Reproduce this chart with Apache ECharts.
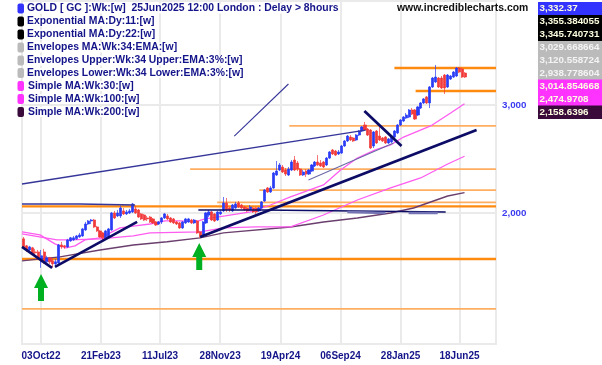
<!DOCTYPE html>
<html><head><meta charset="utf-8">
<script src="https://cdn.jsdelivr.net/npm/echarts@6/dist/echarts.min.js"></script>
<style>html,body{margin:0;padding:0;background:#fff}#c{width:602px;height:365px}</style>
</head><body><div id="c"></div>
<script>
const opens=[1815,1768,1741,1755,1728,1728,1665,1728,1665,1690,1671,1652,1658,1774,1768,1761,1801,1808,1815,1828,1835,1877,1919,1941,1948,1898,1870,1856,1822,1828,1877,2000,1978,1978,2016,1993,2000,2008,2031,2023,1993,1985,1963,1970,1956,1934,1919,1934,1963,1978,1963,1956,1934,1927,1891,1927,1934,1948,1927,1941,1863,1835,1927,1985,2008,1993,1948,1993,2016,2077,2038,2016,2038,2077,2061,2046,2038,2023,2038,2038,2016,2038,2092,2197,2164,2197,2307,2350,2377,2350,2307,2350,2440,2413,2359,2307,2341,2315,2341,2386,2422,2413,2422,2395,2458,2534,2524,2496,2505,2572,2621,2660,2651,2631,2680,2721,2783,2741,2731,2572,2721,2670,2651,2660,2601,2611,2660,2701,2783,2825,2857,2868,2944,2944,2889,2966,3023,3092,3023,3210,3271,3320,3320,3357,3210,3307,3332,3345,3447,3434,3382];
const closes=[1761,1741,1761,1715,1722,1690,1703,1665,1690,1665,1652,1665,1774,1761,1761,1808,1822,1822,1835,1842,1884,1919,1941,1948,1898,1870,1828,1822,1870,1884,2000,1963,2000,2038,1993,2008,2016,2069,2000,1970,1956,1948,1956,1934,1927,1912,1934,1963,1993,1956,1934,1927,1919,1891,1934,1956,1956,1927,1948,1856,1835,1934,2000,2008,1948,1941,2008,2008,2077,2023,2023,2061,2069,2046,2038,2023,2016,2046,2008,2008,2038,2085,2180,2164,2197,2324,2341,2395,2333,2315,2359,2422,2350,2359,2307,2333,2315,2350,2395,2422,2395,2386,2377,2458,2515,2496,2486,2515,2572,2621,2670,2631,2621,2680,2721,2762,2731,2680,2553,2711,2601,2631,2621,2601,2641,2670,2721,2783,2836,2868,2889,2944,2900,2846,2978,3023,3069,3023,3210,3320,3332,3210,3198,3198,3357,3345,3395,3447,3395,3332,3332];
const highs=[1828,1774,1768,1761,1748,1741,1741,1748,1703,1696,1683,1683,1781,1795,1774,1815,1828,1835,1842,1856,1891,1934,1948,1956,1956,1905,1877,1863,1877,1891,2008,2016,2023,2054,2038,2023,2031,2077,2054,2031,2000,1993,1978,1978,1963,1941,1941,1970,2000,1993,1970,1963,1941,1934,1941,1963,1963,1956,1956,1948,1870,1941,2008,2023,2016,2000,2016,2023,2124,2116,2046,2069,2085,2092,2069,2054,2046,2061,2046,2046,2046,2092,2189,2205,2214,2333,2431,2413,2395,2368,2377,2440,2477,2431,2368,2350,2359,2359,2404,2431,2486,2440,2431,2468,2524,2543,2534,2534,2582,2631,2680,2680,2660,2690,2731,2773,2815,2752,2741,2721,2731,2762,2660,2670,2651,2680,2731,2794,2846,2878,2911,2955,2966,2955,2989,3034,3080,3103,3222,3332,3486,3332,3345,3370,3370,3357,3408,3460,3460,3447,3395];
const lows=[1755,1728,1735,1709,1703,1677,1628,1652,1658,1652,1628,1640,1652,1748,1748,1755,1795,1801,1808,1822,1828,1870,1912,1919,1891,1863,1822,1808,1815,1822,1870,1956,1970,1963,1985,1985,1993,2000,1993,1963,1948,1941,1941,1927,1919,1905,1912,1919,1956,1948,1927,1919,1912,1884,1884,1919,1927,1919,1919,1849,1822,1828,1919,1970,1941,1934,1941,1985,2008,2008,2008,2008,2031,2038,2031,2016,2008,2016,2000,1993,2008,2031,2085,2156,2156,2189,2298,2341,2324,2298,2298,2341,2341,2341,2298,2298,2290,2307,2333,2377,2386,2377,2368,2386,2449,2486,2477,2486,2496,2563,2611,2621,2611,2621,2670,2711,2721,2670,2543,2553,2592,2621,2611,2592,2592,2601,2651,2690,2773,2815,2846,2857,2889,2836,2878,2955,3011,3011,2966,3198,3258,3198,3186,3127,3198,3295,3320,3332,3382,3320,3320];
const tickWeeks=[6.46,26.8,46.9,67.3,87.8,108.2,128.6,148.6];
const tickLabels=['03Oct22','21Feb23','11Jul23','28Nov23','19Apr24','06Sep24','28Jan25','18Jun25'];
const priceTicks=[2000,3000];
const sma30=[[0,1863],[6.1,1842],[11.2,1781],[15,1755],[18,1768],[21.4,1808],[26.5,1822],[29.9,1856],[33.3,1891],[38.4,1905],[43.5,1919],[48.6,1941],[53.7,1941],[58.8,1934],[62.2,1956],[69,1978],[77.6,2008],[84.4,2061],[91.2,2124],[102.4,2222],[108.2,2350],[113.9,2458],[120,2534],[125.2,2582],[129.6,2660],[138.8,2773],[145.6,2911],[150.3,3015]];
const sma100=[[0,1849],[11.9,1808],[16.3,1808],[26.5,1815],[37.8,1835],[43.5,1856],[60.5,1863],[68.4,1891],[79.6,1898],[91.2,1898],[102.4,1985],[113.9,2100],[125.2,2197],[135.4,2281],[144.6,2404],[150.3,2475]];
const sma200=[[0,1671],[12.9,1696],[26.5,1741],[37.8,1774],[49.3,1795],[60.5,1822],[68.4,1856],[91.2,1898],[102.4,1934],[113.9,1963],[125.2,2000],[133,2038],[144.6,2132],[150.3,2159]];
const levelPrices=[3447,3162,2773,2359,2180,2081,2050,1683,1395];
const levelStartWeeks=[126.5,133.7,90.8,57.1,80.6,66.3,0,0,0];
const levelHeavy=[1,1,0,0,0,0,1,1,0];
const thinChannel=[[0,2230],[116.7,2731]];
const thinShort=[[72.1,2670],[90.5,3246]];
const thinGrey=[[97.3,2264],[126.2,2601]];
const thinFlatA=[[0,2069],[19.7,2069],[19.7,2061],[38.4,2061]];
const thinFlatB=[[59.9,2023],[81.6,2023],[81.6,2016],[143.9,2008]];
const slateA=[[110.5,2008],[123.5,2000]];
const slateB=[[131.3,2000],[141.2,2000]];
const thickDownA=[[0,1761],[10.2,1628]];
const thickUpA=[[11.2,1634],[39.1,1934]];
const thickUpB=[[60.5,1828],[154.4,2731]];
const thickDownB=[[116.3,2933],[128.9,2572]];
const arrows=[[6.46,1512],[60.2,1699]];
const legendNames=['GOLD [ GC ]:Wk:[w]  25Jun2025 12:00 London : Delay > 8hours','Exponential MA:Dy:11:[w]','Exponential MA:Dy:22:[w]','Envelopes MA:Wk:34:EMA:[w]','Envelopes Upper:Wk:34 Upper:EMA:3%:[w]','Envelopes Lower:Wk:34 Lower:EMA:3%:[w]','Simple MA:Wk:30:[w]','Simple MA:Wk:100:[w]','Simple MA:Wk:200:[w]'];
const legendValues=['3,332.37','3,355.384055','3,345.740731','3,029.668664','3,120.558724','2,938.778604','3,014.854668','2,474.9708','2,158.6396'];
const legendColors=['#3333ff','#000000','#000000','#bbbbbb','#bbbbbb','#bbbbbb','#ff33ff','#ff33ff','#3a0a3a'];

const categories=opens.map((_,i)=>'w'+i);
for(let i=opens.length;i<161;i++)categories.push('w'+i);
const candleData=opens.map((o,i)=>[o,closes[i],lows[i],highs[i]]);
const line=(data,color,width,z)=>({type:'line',xAxisIndex:1,yAxisIndex:0,data,symbol:'none',silent:true,z:z||3,lineStyle:{color,width,cap:'butt'}});
const levels=levelPrices.map((p,i)=>line([[levelStartWeeks[i],p],[161,p]],levelHeavy[i]?'#ff8a10':'#ffae60',levelHeavy[i]?2.4:1.8,2));
const navy='#0c0c66',thin='#36369a';
const series=[
 ...levels,
 line(sma200,'#6a3f6e',1.4,3),line(sma100,'#ff5cf0',1.3,3),line(sma30,'#ff5cf0',1.3,3),
 {type:'candlestick',xAxisIndex:0,yAxisIndex:0,data:candleData,barWidth:2.6,z:4,silent:true,
  itemStyle:{color:'#2a3cf5',color0:'#f23a3a',borderColor:'#2a3cf5',borderColor0:'#f23a3a',borderWidth:0.7}},
 line(thinChannel,thin,1.3,5),line(thinShort,thin,1.1,5),line(thinGrey,'#6a6aa8',1.1,5),
 line(thinFlatA,thin,1.4,5),line(thinFlatB,navy,1.4,5),line(slateA,'#7474b4',2.4,5),line(slateB,'#7474b4',2.4,5),
 line(thickDownA,navy,2.6,6),line(thickUpA,navy,2.6,6),line(thickUpB,navy,2.8,6),line(thickDownB,navy,2.8,6),
 {type:'scatter',xAxisIndex:1,yAxisIndex:0,data:arrows,silent:true,z:6,symbol:'path://M7 0 L14 14 L10 14 L10 27 L4 27 L4 14 L0 14 Z',symbolSize:[14,27],itemStyle:{color:'#00b020',opacity:1}}
];
const graphic=[];
const rowY=[8.5,21.5,34.5,47.5,60.5,73,86,99,112];
legendNames.forEach((t,i)=>{
 graphic.push({type:'rect',z:20,shape:{x:17.5,y:rowY[i]-5,width:6.5,height:10,r:2},style:{fill:legendColors[i]}});
 graphic.push({type:'text',z:20,x:i>=6?28:27,y:rowY[i],style:{text:t,font:'bold 10.4px "Liberation Sans",Arial',fill:'#14148a',backgroundColor:'#fff',verticalAlign:'middle',align:'left'}});
 graphic.push({type:'rect',z:20,shape:{x:538,y:rowY[i]-6.5,width:64,height:13.4},style:{fill:legendColors[i]}});
 graphic.push({type:'text',z:21,x:539.5,y:rowY[i],style:{text:legendValues[i],font:'bold 9.8px "Liberation Sans",Arial',fill:(i>=3&&i<=5)?'#f4f4f4':'#fdfde0',verticalAlign:'middle',align:'left'}});
});
graphic.push({type:'text',z:20,x:397,y:8,style:{text:'www.incrediblecharts.com',font:'bold 10.4px "Liberation Sans",Arial',fill:'#111',verticalAlign:'middle',align:'left'}});

const chart=echarts.init(document.getElementById('c'),null,{renderer:'canvas'});
chart.setOption({
 animation:false,
 grid:{left:22,top:1,width:474,height:343,show:true,borderColor:'#eaeaea',borderWidth:2,backgroundColor:'transparent'},
 xAxis:[
  {type:'category',data:categories,show:false,boundaryGap:true},
  {type:'value',min:0,max:161,position:'bottom',
   axisLine:{show:true,onZero:false,lineStyle:{color:'#eaeaea',width:2}},
   axisTick:{show:false,customValues:tickWeeks},
   axisLabel:{customValues:tickWeeks,margin:7,showMinLabel:true,showMaxLabel:true,hideOverlap:false,
    fontWeight:'bold',fontSize:10,fontFamily:'"Liberation Sans",Arial',color:'#14148a',
    formatter:v=>{const k=tickWeeks.indexOf(v);return k<0?'':tickLabels[k];}},
   splitLine:{show:true,lineStyle:{color:'#eaeaea',width:2}}}
 ],
 yAxis:[{type:'log',min:1223,max:4433,position:'right',
   axisLine:{show:false},
   axisTick:{show:false,customValues:priceTicks},
   axisLabel:{customValues:priceTicks,margin:6,fontWeight:'bold',fontSize:9.8,fontFamily:'"Liberation Sans",Arial',color:'#3c3cf0',
    formatter:v=>Math.round(v).toLocaleString('en-US')},
   splitLine:{show:true,lineStyle:{color:'#eaeaea',width:2}}}],
 series,
 graphic
});
</script></body></html>
